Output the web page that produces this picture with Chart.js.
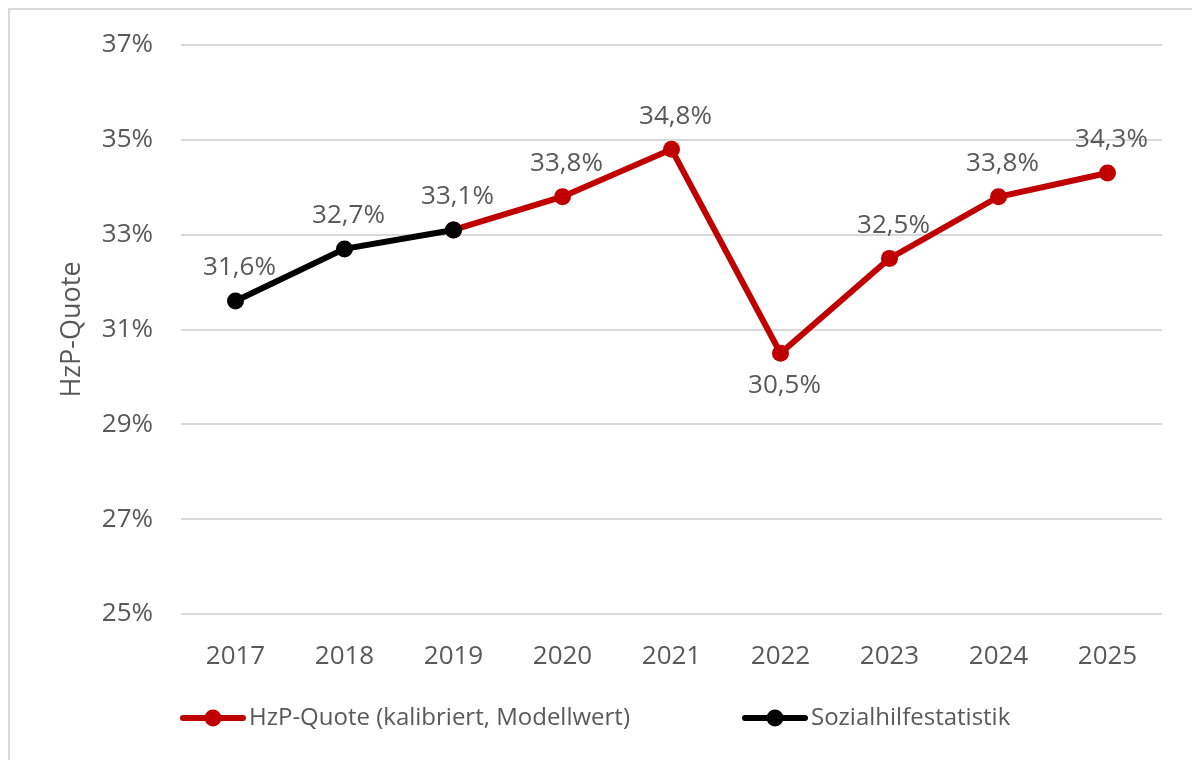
<!DOCTYPE html>
<html>
<head>
<meta charset="utf-8">
<script src="https://cdn.jsdelivr.net/npm/chart.js@4.4.0/dist/chart.umd.min.js"></script>
<style>
html, body { margin: 0; padding: 0; background: #fff; overflow: hidden; }
#wrap { position: relative; width: 1192px; height: 760px; }
#rahmen { position: absolute; left: 8px; top: 8px; width: 1220px; height: 800px; border: 2px solid #d9d9d9; }
#chart { position: absolute; left: 0; top: 0; }
</style>
</head>
<body>
<div id="wrap">
  <div id="rahmen"></div>
  <canvas id="chart" width="1192" height="760"></canvas>
</div>
<script>
// Daten
const jahre = ['2017', '2018', '2019', '2020', '2021', '2022', '2023', '2024', '2025'];
const modellwert = [null, null, 33.1, 33.8, 34.8, 30.5, 32.5, 33.8, 34.3];
const statistik = [31.6, 32.7, 33.1, null, null, null, null, null, null];
const yTicks = [25, 27, 29, 31, 33, 35, 37];

const FARBEN = { rot: '#c00000', schwarz: '#000000', text: '#595959', gitter: '#d9d9d9' };
const SCHRIFT = "'Open Sans', 'Noto Sans', sans-serif";

const fmtProzent = v => v.toFixed(1).replace('.', ',') + '%';

// Datenbeschriftungen (ueber dem Punkt, beim Tiefpunkt darunter)
const wertePlugin = {
    id: 'werte',
    afterDatasetsDraw(chart, args, opts) {
        const ctx = chart.ctx;
        ctx.save();
        ctx.font = `${opts.size}px ${SCHRIFT}`;
        ctx.fillStyle = FARBEN.text;
        ctx.textAlign = 'center';
        ctx.textBaseline = 'middle';
        chart.data.datasets.forEach((ds, di) => {
            const meta = chart.getDatasetMeta(di);
            meta.data.forEach((pt, i) => {
                const v = ds.data[i];
                if (v == null || (ds.ohneWert || []).includes(i)) return;
                const unten = (ds.wertUnten || []).includes(i);
                ctx.fillText(fmtProzent(v), pt.x + 4, unten ? pt.y + opts.abstandUnten : pt.y - opts.abstandOben);
            });
        });
        ctx.restore();
    }
};

// Legende im Excel-Stil: Linie mit Punkt
const legendePlugin = {
    id: 'legende',
    afterDraw(chart, args, opts) {
        const ctx = chart.ctx;
        ctx.save();
        opts.eintraege.forEach(e => {
            const ds = chart.data.datasets[e.dataset];
            ctx.strokeStyle = ds.borderColor;
            ctx.fillStyle = ds.borderColor;
            ctx.lineWidth = 6;
            ctx.lineCap = 'round';
            ctx.beginPath();
            ctx.moveTo(e.x, opts.y);
            ctx.lineTo(e.x + opts.linie, opts.y);
            ctx.stroke();
            ctx.beginPath();
            ctx.arc(e.x + opts.linie / 2, opts.y, 8.5, 0, Math.PI * 2);
            ctx.fill();
            ctx.font = `${opts.size}px ${SCHRIFT}`;
            ctx.fillStyle = FARBEN.text;
            ctx.textAlign = 'left';
            ctx.textBaseline = 'middle';
            ctx.fillText(ds.label, e.x + opts.linie + 6, opts.y);
        });
        ctx.restore();
    }
};

new Chart(document.getElementById('chart'), {
    type: 'line',
    data: {
        labels: jahre,
        datasets: [
            {
                label: 'HzP-Quote (kalibriert, Modellwert)',
                data: modellwert,
                borderColor: FARBEN.rot,
                backgroundColor: FARBEN.rot,
                pointBackgroundColor: FARBEN.rot,
                borderWidth: 6,
                pointRadius: 8.5,
                pointBorderWidth: 0,
                tension: 0,
                order: 2,
                ohneWert: [2],
                wertUnten: [5]
            },
            {
                label: 'Sozialhilfestatistik',
                data: statistik,
                borderColor: FARBEN.schwarz,
                backgroundColor: FARBEN.schwarz,
                pointBackgroundColor: FARBEN.schwarz,
                borderWidth: 6,
                pointRadius: 8.5,
                pointBorderWidth: 0,
                tension: 0,
                order: 1
            }
        ]
    },
    options: {
        responsive: false,
        animation: false,
        events: [],
        layout: { padding: { left: 0, right: 30, top: 45, bottom: 86 } },
        plugins: {
            legend: { display: false },
            tooltip: { enabled: false },
            werte: { size: 26, abstandOben: 33, abstandUnten: 32 },
            legende: {
                y: 718, linie: 60, size: 24,
                eintraege: [{ dataset: 0, x: 183 }, { dataset: 1, x: 745 }]
            }
        },
        scales: {
            x: {
                offset: true,
                grid: { display: false },
                border: { display: false },
                ticks: { color: FARBEN.text, font: { family: SCHRIFT, size: 26 }, padding: 19 },
                afterFit: s => { s.height = 60; }
            },
            y: {
                min: 25,
                max: 37,
                afterBuildTicks: s => { s.ticks = yTicks.map(v => ({ value: v })); },
                grid: { color: FARBEN.gitter, lineWidth: 2, drawTicks: false },
                border: { display: false },
                ticks: {
                    color: FARBEN.text,
                    font: { family: SCHRIFT, size: 26 },
                    padding: 28,
                    callback: v => v + '%'
                },
                title: {
                    display: true,
                    text: 'HzP-Quote',
                    color: FARBEN.text,
                    font: { family: SCHRIFT, size: 27 },
                    padding: { top: 56, bottom: 0 }
                },
                afterFit: s => { s.width = 181; }
            }
        }
    },
    plugins: [wertePlugin, legendePlugin]
});
</script>
</body>
</html>
